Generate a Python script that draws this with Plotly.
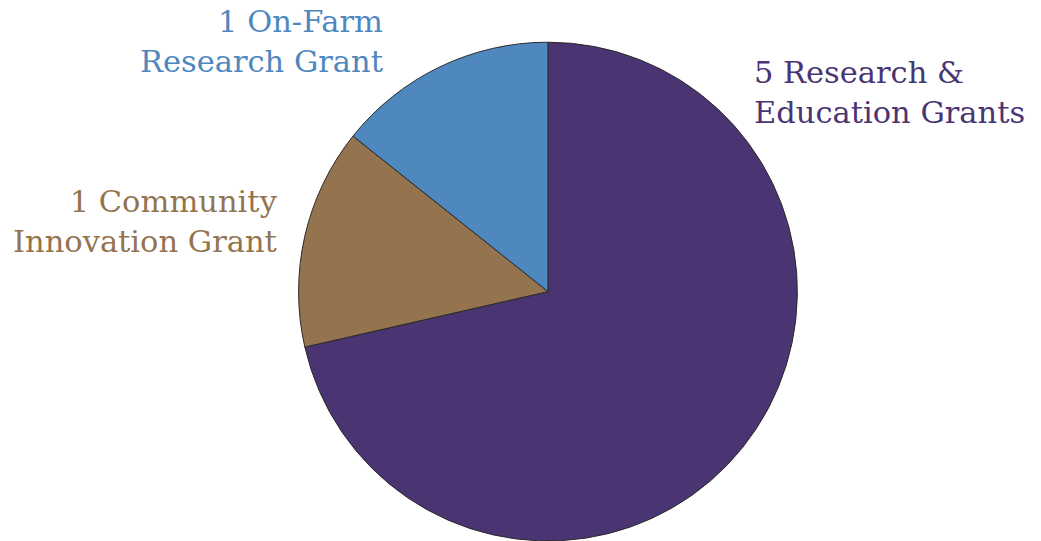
import plotly.graph_objects as go

labels = ["5 Research &<br>Education Grants", "1 Community<br>Innovation Grant", "1 On-Farm<br>Research Grant"]
values = [5, 1, 1]
colors = ["#4A3572", "#94744F", "#4F87BF"]

W, H = 1041, 541
fig = go.Figure(go.Pie(
    values=values,
    labels=labels,
    marker=dict(colors=colors, line=dict(color="#2a2a2a", width=1)),
    sort=False,
    direction="clockwise",
    rotation=0,
    textinfo="none",
    hoverinfo="label+value",
    showlegend=False,
    domain=dict(x=[0.2862, 0.7666], y=[0.0, 0.922]),
))

font_family = "DejaVu Serif"
fs = 30.5
ann = [
    (386, 42, "right", labels[2], colors[2]),
    (280, 221, "right", labels[1], colors[1]),
    (752, 93, "left", labels[0], colors[0]),
]
for x, y, anc, t, c in ann:
    fig.add_annotation(x=x / W, y=1 - y / H, xref="paper", yref="paper",
                       xanchor=anc, yanchor="middle", align=anc, showarrow=False,
                       text=t, font=dict(family=font_family, size=fs, color=c))

fig.update_layout(width=W, height=H, margin=dict(l=0, r=0, t=0, b=0),
                  paper_bgcolor="white", plot_bgcolor="white")
fig.write_html("out.html")
